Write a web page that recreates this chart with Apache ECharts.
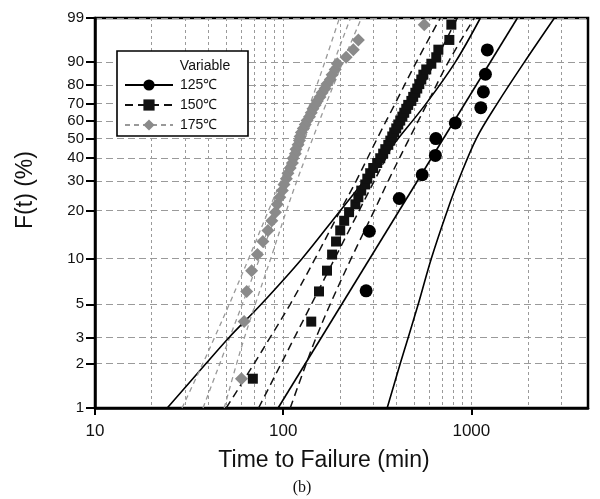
<!DOCTYPE html>
<html>
<head>
<meta charset="utf-8">
<script src="https://cdn.jsdelivr.net/npm/echarts@6/dist/echarts.min.js"></script>
<style>html,body{margin:0;padding:0;background:#fff;}#c{width:600px;height:499px;}</style>
</head>
<body>
<div id="c"></div>
<script>
// ---- data ----
const seriesNames = ['125℃', '150℃', '175℃'];
const yTickPct = [1, 2, 3, 5, 10, 20, 30, 40, 50, 60, 70, 80, 90, 99];
const xTickLabels = [10, 100, 1000];
const xGridValues = [20, 30, 40, 50, 60, 70, 80, 90, 100, 200, 300, 400, 500, 600, 700, 800, 900, 1000, 2000, 3000];

// plotting positions (%)
const fPos11 = [6.14, 14.91, 23.68, 32.46, 41.23, 50.00, 58.77, 67.54, 76.32, 85.09, 93.86];
const fPos44 = [1.58, 3.83, 6.08, 8.33, 10.59, 12.84, 15.09, 17.34, 19.59, 21.85, 24.10, 26.35, 28.60, 30.86, 33.11, 35.36, 37.61, 39.86, 42.12, 44.37, 46.62, 48.87, 51.13, 53.38, 55.63, 57.88, 60.14, 62.39, 64.64, 66.89, 69.14, 71.40, 73.65, 75.90, 78.15, 80.41, 82.66, 84.91, 87.16, 89.41, 91.67, 93.92, 96.17, 98.42];

// failure times (min)
const t125 = [276, 287, 414, 548, 644, 648, 822, 1123, 1159, 1188, 1216];
const t150 = [69, 141, 155, 171, 182, 191, 201, 211, 224, 242, 251, 260, 273, 280, 290, 301, 316, 328, 340, 349, 362, 371, 380, 389, 399, 409, 419, 430, 440, 451, 462, 480, 491, 504, 516, 529, 542, 556, 576, 613, 651, 668, 764, 783];
const t175 = [60, 62, 64, 68, 73, 78, 83, 87, 91, 93, 96, 99, 101, 104, 106, 109, 112, 113, 116, 117, 120, 122, 123, 125, 128, 131, 134, 138, 141, 144, 148, 152, 157, 161, 167, 171, 178, 182, 189, 194, 216, 236, 251, 562];

// fitted lines: times at F = 1% and 99%
const fitLevels = [1, 99];
const fit125 = [94, 1757];
const fit150 = [74, 842];
const fit175 = [37.5, 228];

// confidence bounds: times at these F levels
const ciLevels = [1, 2, 3, 5, 10, 20, 30, 50, 70, 90, 99];
const lo125 = [24.2, 38.9, 51.6, 76.4, 126.2, 201, 269.7, 408.8, 576, 822, 1117];
const hi125 = [357, 419, 462, 522, 613, 745, 853, 1063, 1375, 1914, 2763];
const lo150 = [49.8, 70.1, 85.3, 109, 148, 201, 244.5, 316, 394, 510, 684];
const hi150 = [109, 132.6, 149.8, 177.8, 229.9, 304.8, 361.8, 468, 583, 754, 1037];
const lo175 = [29.0, 37.4, 43.2, 51.7, 65.6, 83.5, 97.2, 118, 139.4, 166.4, 199.1];
const hi175 = [48.6, 56.6, 62.3, 71.1, 85.9, 104.1, 118.3, 143.5, 169.5, 207.5, 260.6];

// ---- scales: x = log10(t), y = ln(-ln(1-F)) (Weibull probability paper) ----
const wx = t => Math.log10(t);
const wy = p => Math.log(-Math.log(1 - p / 100));
const pts = (ts, fs) => ts.map((t, i) => [wx(t), wy(fs[i])]);

const yMin = wy(1), yMax = wy(99);
const FONT = 'Liberation Sans, Arial, sans-serif';

const styles = [
  {color: '#000', type: 'solid', width: 1.6, symbol: 'circle', size: 13, mcolor: '#000'},
  {color: '#111', type: [8, 5], width: 1.5, symbol: 'rect', size: 10, mcolor: '#111'},
  {color: '#999', type: [5, 4], width: 1.3, symbol: 'diamond', size: 13, mcolor: '#8a8a8a'}
];
const fits = [fit125, fit150, fit175];
const los = [lo125, lo150, lo175];
const his = [hi125, hi150, hi175];
const times = [t125, t150, t175];
const fposs = [fPos11, fPos44, fPos44];

const series = [];
seriesNames.forEach((nm, k) => {
  const s = styles[k];
  series.push({
    name: nm, type: 'line', data: pts(fits[k], fitLevels), showSymbol: false,
    symbol: s.symbol, symbolSize: s.size,
    lineStyle: {color: s.color, type: s.type, width: s.width},
    itemStyle: {color: s.mcolor}, z: 3, silent: true
  });
});
seriesNames.forEach((nm, k) => {
  const s = styles[k];
  [los[k], his[k]].forEach((arr, j) => {
    series.push({
      name: nm + (j ? ' hi' : ' lo'), type: 'line', data: pts(arr, ciLevels), showSymbol: false,
      smooth: 0.35, lineStyle: {color: s.color, type: s.type, width: s.width}, z: 3, silent: true
    });
  });
});
// points drawn last (175 first so darker marks on top)
[2, 1, 0].forEach(k => {
  const s = styles[k];
  series.push({
    name: seriesNames[k] + ' pts', type: 'scatter', data: pts(times[k], fposs[k]),
    symbol: s.symbol, symbolSize: s.size, itemStyle: {color: s.mcolor, opacity: 1}, z: 4, silent: true
  });
});

const chart = echarts.init(document.getElementById('c'), null, {renderer: 'canvas'});
chart.setOption({
  animation: false,
  backgroundColor: '#fff',
  grid: {left: 95, top: 18, width: 493, height: 390, show: true, borderColor: '#000', borderWidth: 2.5, backgroundColor: 'transparent'},
  xAxis: [{
    type: 'value', min: 1, max: 3.62,
    axisLine: {show: true, onZero: false, lineStyle: {color: '#000', width: 2.5}},
    axisTick: {show: true, length: 7, lineStyle: {color: '#000', width: 2}, customValues: xTickLabels.map(wx)},
    axisLabel: {customValues: xTickLabels.map(wx), formatter: v => String(Math.round(Math.pow(10, v))), fontFamily: FONT, fontSize: 17, color: '#111', margin: 15},
    splitLine: {show: false}
  }, {
    type: 'value', min: 1, max: 3.62, position: 'bottom',
    axisLine: {show: false, onZero: false}, axisTick: {show: false, customValues: xGridValues.map(wx)},
    axisLabel: {show: false, customValues: xGridValues.map(wx)},
    splitLine: {show: true, lineStyle: {color: '#9a9a9a', type: [3, 3], width: 1}}
  }],
  yAxis: {
    type: 'value', min: yMin, max: yMax,
    axisLine: {show: true, onZero: false, lineStyle: {color: '#000', width: 2.5}},
    axisTick: {show: true, length: 9, lineStyle: {color: '#000', width: 2}, customValues: yTickPct.map(wy)},
    axisLabel: {customValues: yTickPct.map(wy), formatter: v => String(Math.round(100 * (1 - Math.exp(-Math.exp(v))))), fontFamily: FONT, fontSize: 15, color: '#111', margin: 11},
    splitLine: {show: true, lineStyle: {color: '#9a9a9a', type: [7, 4], width: 1}}
  },
  legend: {
    data: seriesNames, orient: 'vertical', left: 124, top: 78, padding: 0, z: 20,
    itemWidth: 48, itemHeight: 14, itemGap: 6, selectedMode: false,
    textStyle: {fontFamily: FONT, fontSize: 14, color: '#111', padding: [0, 0, 0, 2]}
  },
  graphic: [
    {type: 'rect', shape: {x: 117, y: 51, width: 131, height: 85}, style: {fill: '#fff', stroke: '#000', lineWidth: 1.6}, z: 5},
    {type: 'text', x: 205, y: 66, style: {text: 'Variable', font: '14px ' + FONT, fill: '#111', textAlign: 'center', textVerticalAlign: 'middle'}, z: 6},
    {type: 'text', x: 324, y: 461, style: {text: 'Time to Failure (min)', font: '23px ' + FONT, fill: '#111', textAlign: 'center', textVerticalAlign: 'middle'}, z: 6},
    {type: 'text', x: 26, y: 190, rotation: Math.PI / 2, style: {text: 'F(t) (%)', font: '23px ' + FONT, fill: '#111', textAlign: 'center', textVerticalAlign: 'middle'}, z: 6},
    {type: 'text', x: 302, y: 488, style: {text: '(b)', font: '16px Liberation Serif, serif', fill: '#111', textAlign: 'center', textVerticalAlign: 'middle'}, z: 6}
  ],
  series: series
});
</script>
</body>
</html>
